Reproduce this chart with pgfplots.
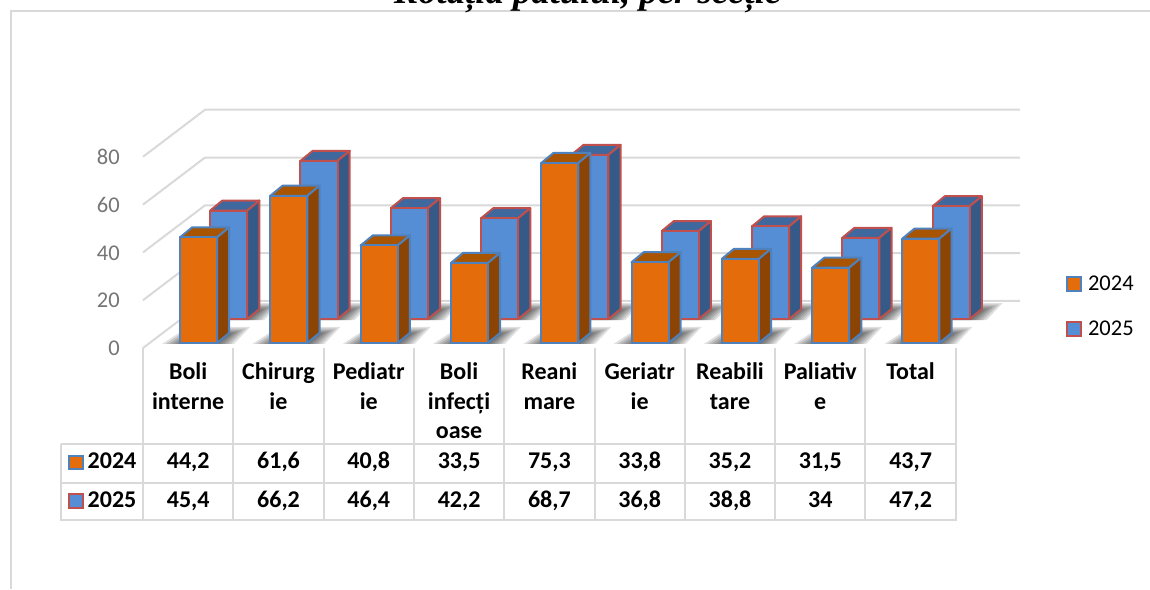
\documentclass[border=0pt]{standalone}
\usepackage{pgfplots}
\pgfplotsset{compat=1.18}
\usepackage{fontspec}
\setmainfont{Carlito}
\newfontfamily\titlefont{Liberation Serif}
\definecolor{gridc}{HTML}{D9D9D9}
\definecolor{tickc}{HTML}{757575}
\definecolor{ofront}{HTML}{E46C0A}
\definecolor{otop}{HTML}{A85400}
\definecolor{oside}{HTML}{8C4404}
\definecolor{oline}{HTML}{4F81BD}
\definecolor{bfront}{HTML}{558ED5}
\definecolor{btop}{HTML}{3F689F}
\definecolor{bside}{HTML}{355A87}
\definecolor{bline}{HTML}{C0504D}
% one px in axis units: x 1/90.3, y 1/2.39
\newcommand{\ShadowLayer}[3]{% #1 left x, #2 base y, #3 inset
  \pgfmathsetmacro\sa{#1+(-18+3.5*#3)/90.3}\pgfmathsetmacro\sb{#2-1/2.39}
  \pgfmathsetmacro\sc{#1+(54-3*#3)/90.3}
  \pgfmathsetmacro\sd{#1+(70-3.5*#3)/90.3}\pgfmathsetmacro\se{#2+(16-1.3*#3)/2.39}
  \pgfmathsetmacro\sf{#1+(8+1*#3)/90.3}
  \edef\tmp{\noexpand\addplot[fill=black,draw=none,fill opacity=0.12,forget plot] coordinates {(\sa,\sb)(\sc,\sb)(\sd,\se)(\sf,\se)} -- cycle;}\tmp
}
\newcommand{\Shadow}[2]{\ShadowLayer{#1}{#2}{0}\ShadowLayer{#1}{#2}{1}\ShadowLayer{#1}{#2}{2}\ShadowLayer{#1}{#2}{3}\ShadowLayer{#1}{#2}{4}\ShadowLayer{#1}{#2}{5}\ShadowLayer{#1}{#2}{6}}
% #1 category, #2 value, #3 left offset, #4 base, #5 colour prefix
\newcommand{\BarThreeD}[5]{%
  \pgfmathsetmacro\xl{#1+#3}\pgfmathsetmacro\xr{\xl+0.41}
  \pgfmathsetmacro\xs{\xr+0.135}\pgfmathsetmacro\xk{\xl+0.135}
  \pgfmathsetmacro\yt{#4+#2}\pgfmathsetmacro\ytt{\yt+4.2}\pgfmathsetmacro\ybb{#4+4.2}
  \edef\tmp{\noexpand\addplot[fill=#5top,draw=#5line,line width=2pt,line join=round,forget plot] coordinates {(\xl,\yt)(\xr,\yt)(\xs,\ytt)(\xk,\ytt)} -- cycle;}\tmp
  \edef\tmp{\noexpand\addplot[fill=#5side,draw=#5line,line width=2pt,line join=round,forget plot] coordinates {(\xr,#4)(\xs,\ybb)(\xs,\ytt)(\xr,\yt)} -- cycle;}\tmp
  \edef\tmp{\noexpand\addplot[fill=#5front,draw=#5line,line width=2pt,line join=round,forget plot] coordinates {(\xl,#4)(\xr,#4)(\xr,\yt)(\xl,\yt)} -- cycle;}\tmp
}
\newcommand{\Grid}[2]{\addplot[gridc,line width=2pt,forget plot] coordinates {(-0.5,#1)(0.187,#2)(9.21,#2)};}
\newcommand{\CellText}[3]{\node[font=\fontsize{24}{28}\selectfont\bfseries,anchor=center,inner sep=0pt] at (#1pt,-#2pt) {\strut #3};}
\begin{document}
\begin{tikzpicture}[x=1pt,y=1pt]
\path[use as bounding box] (0,0) rectangle (1150,-589);
% chart frame
\draw[gridc,line width=2pt] (10.5,-589) -- (10.5,-11) -- (1150,-11);
\begin{axis}[
  at={(143pt,-348pt)},anchor=south west,
  x=90.3pt,y=2.39pt,
  xmin=-0.5,xmax=9.21,ymin=0,ymax=100,
  clip=false,
  axis lines*=left,
  axis line style={draw=none},
  tick style={draw=none},
  xtick={0,...,8},
  xticklabels={{\strut Boli\\\strut interne},{\strut Chirurg\\\strut ie},{\strut Pediatr\\\strut ie},{\strut Boli\\\strut infecți\\\strut oase},{\strut Reani\\\strut mare},{\strut Geriatr\\\strut ie},{\strut Reabili\\\strut tare},{\strut Paliativ\\\strut e},{\strut Total}},
  ytick={0,20,40,60,80},
  /pgf/number format/assume math mode=true,
  yticklabel style={font=\fontsize{22.5}{27}\selectfont,text=tickc,inner sep=0pt,xshift=-23pt,yshift=-0.5pt},
  xticklabel style={font=\fontsize{24}{29.5}\selectfont\bfseries,align=center,anchor=north,inner sep=0pt,yshift=-11pt,text width=89pt},
  legend style={at={(axis cs:9.72,17.4)},anchor=west,draw=none,fill=none,font=\fontsize{22.5}{27}\selectfont,row sep=25pt,inner sep=0pt,/tikz/every odd column/.style={column sep=4pt}},
  legend cell align=left,
]
\addlegendimage{legend image code/.code={\draw[fill=ofront,draw=oline,line width=2pt] (0pt,-7pt) rectangle (14pt,7pt);}}
\addlegendentry{2024}
\addlegendimage{legend image code/.code={\draw[fill=bfront,draw=bline,line width=2pt] (0pt,-7pt) rectangle (14pt,7pt);}}
\addlegendentry{2025}
\Grid{0}{19.7}\Grid{20}{39.7}\Grid{40}{59.7}\Grid{60}{79.7}\Grid{80}{99.7}
% shadows on the floor
\Shadow{0.244}{12.1}\Shadow{1.244}{12.1}\Shadow{2.244}{12.1}\Shadow{3.244}{12.1}\Shadow{4.244}{12.1}\Shadow{5.244}{12.1}\Shadow{6.244}{12.1}\Shadow{7.244}{12.1}\Shadow{8.244}{12.1}
\Shadow{-0.09}{2.1}\Shadow{0.91}{2.1}\Shadow{1.91}{2.1}\Shadow{2.91}{2.1}\Shadow{3.91}{2.1}\Shadow{4.91}{2.1}\Shadow{5.91}{2.1}\Shadow{6.91}{2.1}\Shadow{7.91}{2.1}
% 2025 (rear row)
\BarThreeD{0}{45.4}{0.244}{12.1}{b}
\BarThreeD{1}{66.2}{0.244}{12.1}{b}
\BarThreeD{2}{46.4}{0.244}{12.1}{b}
\BarThreeD{3}{42.2}{0.244}{12.1}{b}
\BarThreeD{4}{68.7}{0.244}{12.1}{b}
\BarThreeD{5}{36.8}{0.244}{12.1}{b}
\BarThreeD{6}{38.8}{0.244}{12.1}{b}
\BarThreeD{7}{34}{0.244}{12.1}{b}
\BarThreeD{8}{47.2}{0.244}{12.1}{b}
% 2024 (front row)
\BarThreeD{0}{44.2}{-0.09}{2.1}{o}
\BarThreeD{1}{61.6}{-0.09}{2.1}{o}
\BarThreeD{2}{40.8}{-0.09}{2.1}{o}
\BarThreeD{3}{33.5}{-0.09}{2.1}{o}
\BarThreeD{4}{75.3}{-0.09}{2.1}{o}
\BarThreeD{5}{33.8}{-0.09}{2.1}{o}
\BarThreeD{6}{35.2}{-0.09}{2.1}{o}
\BarThreeD{7}{31.5}{-0.09}{2.1}{o}
\BarThreeD{8}{43.7}{-0.09}{2.1}{o}
\end{axis}
% title, cut by the top edge of the page as in the reference
\node[overlay,anchor=base,font=\titlefont\fontsize{36.7}{40}\selectfont\bfseries\itshape,inner sep=0pt] at (587.5,-3.5) {Rotația patului, per secție};
% data table rules
\foreach \i in {0,...,9}{\pgfmathsetmacro\xx{143+90.3*\i}\draw[gridc,line width=2pt] (\xx,-348) -- (\xx,-520);}
\draw[gridc,line width=2pt] (60.5,-444) -- (955.7,-444) (60.5,-483) -- (955.7,-483) (60,-520) -- (956.7,-520) (60.5,-444) -- (60.5,-520);
% table keys
\draw[fill=ofront,draw=oline,line width=2pt] (69,-456) rectangle (83,-469);
\draw[fill=bfront,draw=bline,line width=2pt] (69,-494) rectangle (83,-508);
\CellText{112}{463}{2024}\CellText{112}{502}{2025}
\CellText{188.2}{463}{44,2}\CellText{278.5}{463}{61,6}\CellText{368.8}{463}{40,8}\CellText{459.1}{463}{33,5}\CellText{549.4}{463}{75,3}\CellText{639.7}{463}{33,8}\CellText{730}{463}{35,2}\CellText{820.3}{463}{31,5}\CellText{910.6}{463}{43,7}
\CellText{188.2}{502}{45,4}\CellText{278.5}{502}{66,2}\CellText{368.8}{502}{46,4}\CellText{459.1}{502}{42,2}\CellText{549.4}{502}{68,7}\CellText{639.7}{502}{36,8}\CellText{730}{502}{38,8}\CellText{820.3}{502}{34}\CellText{910.6}{502}{47,2}
\end{tikzpicture}
\end{document}
